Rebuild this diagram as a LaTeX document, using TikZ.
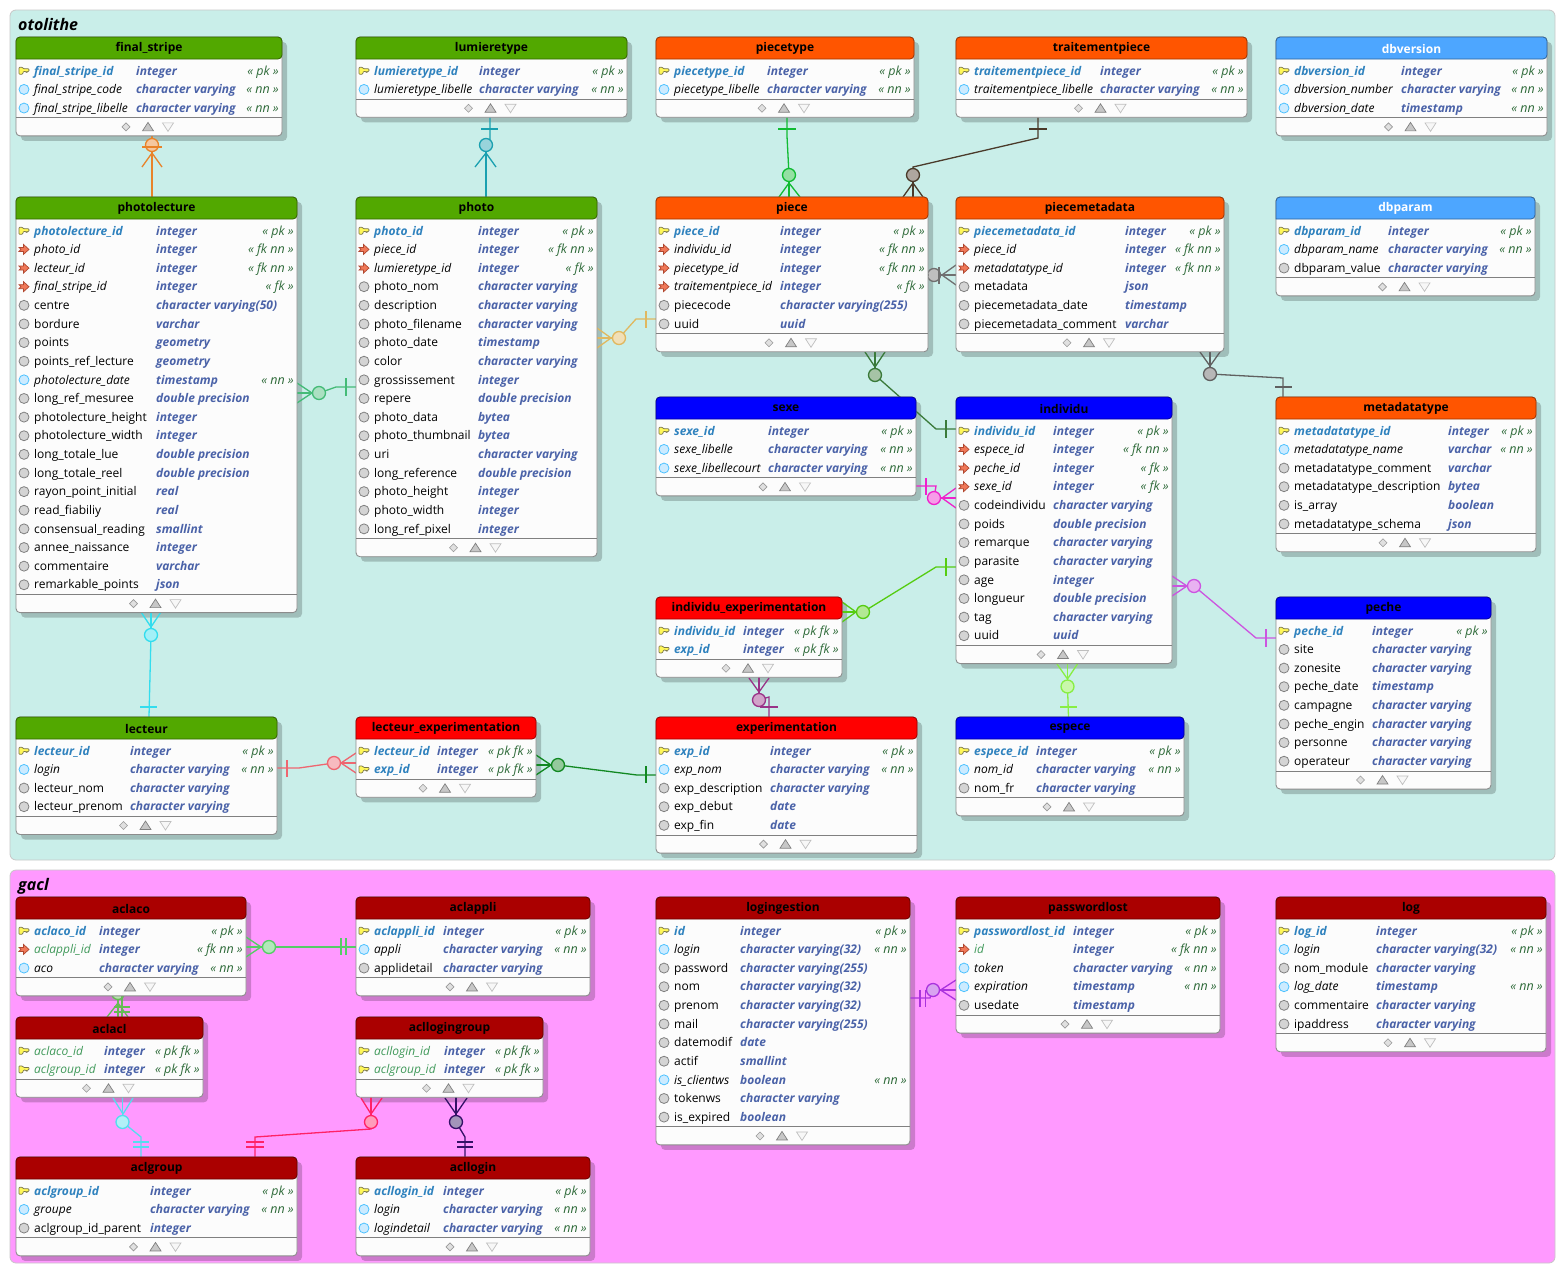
\documentclass[tikz,border=0pt]{standalone}
\usepackage{fontspec}
\setmainfont{Open Sans}
\usetikzlibrary{calc}
\pgfdeclarelayer{shadow}
\pgfdeclarelayer{rel}
\pgfsetlayers{shadow,rel,main}
\catcode`\_=12
\definecolor{hdrgreen}{HTML}{52A800}
\definecolor{hdrorange}{HTML}{FF5500}
\definecolor{hdrsky}{HTML}{4DA6FF}
\definecolor{hdrblue}{HTML}{0000FF}
\definecolor{hdrred}{HTML}{FF0000}
\definecolor{hdrdark}{HTML}{AA0000}
\definecolor{pkblue}{HTML}{2F82BE}
\definecolor{typeblue}{HTML}{4A62A8}
\definecolor{consgreen}{HTML}{2F6B3A}
\definecolor{fkgreen}{HTML}{40995A}
\definecolor{panelotolithe}{HTML}{C9EEE9}
\definecolor{panelgacl}{HTML}{FF99FF}
\definecolor{fkfill}{HTML}{F07858}
\definecolor{fkline}{HTML}{B04830}
\tikzset{
  tblbox/.style={draw=black!45,fill=black!1,line width=.9pt,rounded corners=4pt,inner sep=0pt,outer sep=0pt,anchor=north west},
  tblshadow/.style={fill=black,fill opacity=.2,rounded corners=4pt},
  tblhead/.style={draw=#1!60!black,fill=#1,line width=.8pt},
  tbldiv/.style={draw=black!50,line width=.9pt},
  tbltitle/.style={font=\fontsize{12}{14}\selectfont\bfseries,inner sep=0pt},
  panelbox/.style={draw=black!22,line width=.8pt,rounded corners=6pt},
  paneltitle/.style={font=\fontsize{16}{18}\selectfont\bfseries\itshape,anchor=base west,inner sep=0pt},
  rowtext/.style={anchor=base west,inner sep=0pt},
  namepk/.style={rowtext,text=pkblue,font=\fontsize{12}{14}\selectfont\bfseries\itshape},
  namepf/.style={rowtext,text=fkgreen,font=\fontsize{12}{14}\selectfont\itshape},
  namefg/.style={rowtext,text=fkgreen,font=\fontsize{12}{14}\selectfont\itshape},
  namefk/.style={rowtext,font=\fontsize{12}{14}\selectfont\itshape},
  namenn/.style={rowtext,font=\fontsize{12}{14}\selectfont\itshape},
  nameco/.style={rowtext,font=\fontsize{12}{14}\selectfont},
  coltype/.style={rowtext,text=typeblue,font=\fontsize{12}{14}\selectfont\bfseries\itshape},
  colcons/.style={anchor=base east,inner sep=0pt,text=consgreen,font=\fontsize{12.5}{14}\selectfont\itshape},
  relline/.style={draw=#1,line width=1.3pt},
  relzero/.style={circle,draw=#1,fill=#1!45!white,line width=1.3pt,minimum size=13pt,inner sep=0pt,outer sep=0pt},
  rowpk/.pic={\keyshape},
  rowpf/.pic={\keyshape},
  rowfk/.pic={\arrowshape},
  rowfg/.pic={\arrowshape},
  rownn/.pic={\path[fill=blue!40!cyan!20,draw=blue!35!cyan!70,line width=.8pt] (0,0) circle (5);},
  rowco/.pic={\path[fill=black!17,draw=black!50,line width=.8pt] (0,0) circle (5);},
  footdiamond/.pic={\path[fill=black!12,draw=black!40,line width=.6pt] (-4,0) -- (0,-4) -- (4,0) -- (0,4) -- cycle;},
  footup/.pic={\path[fill=black!22,draw=black!50,line width=.7pt] (-5.5,4) -- (0,-4.5) -- (5.5,4) -- cycle;},
  footdown/.pic={\path[fill=black!3,draw=black!25,line width=.7pt] (-5.5,-4) -- (0,4.5) -- (5.5,-4) -- cycle;},
}
\newcommand{\keyshape}{\path[fill=yellow!65,draw=black!60!yellow,line width=.7pt,rounded corners=.8pt] (-5,-3.5) -- (-1.5,-3.5) -- (-.5,-2) -- (5,-2) -- (5,.6) -- (3.2,.6) -- (2.6,1.6) -- (1.6,.6) -- (-.5,.6) -- (-1.5,3.5) -- (-5,3.5) -- cycle;}
\newcommand{\arrowshape}{\path[fill=fkfill,draw=fkline,line width=.7pt] (-5,-2) -- (-.5,-2) -- (-.5,-5) -- (5,0) -- (-.5,5) -- (-.5,2) -- (-5,2) -- (-3,0) -- cycle;}
\newcount\rowno
\def\tblsky{hdrsky}
% name, left, top, right, rows, type column, header colour, title
\newcommand{\pgtable}[8]{%
  \pgfmathsetmacro\tblbot{#3+43+18.63*#5}
  \pgfmathsetmacro\tblmid{(#2+#4)/2}
  \pgfmathsetmacro\tblw{#4-#2}
  \pgfmathsetmacro\tblh{\tblbot-#3}
  \def\tblname{#1}\def\tblleft{#2}\def\tbltop{#3}\def\tblright{#4}\def\tbltype{#6}
  \def\tblcol{#7}\def\tbltext{black}\ifx\tblcol\tblsky\def\tbltext{white}\fi
  \global\rowno=0
  \begin{pgfonlayer}{shadow}
    \path[tblshadow] (#2+5,#3+5) rectangle (#4+5,\tblbot+5);
  \end{pgfonlayer}
  \node[tblbox,minimum width=\tblw pt,minimum height=\tblh pt] (#1) at (#2,#3) {};
  \path[tblhead=#7] (#2,#3+22) [rounded corners=4pt] -- (#2,#3) -- (#4,#3) -- (#4,#3+22) [sharp corners] -- cycle;
  \node[tbltitle,text=\tbltext] (#1-title) at (\tblmid,#3+11.7) {#8};
  \draw[tbldiv] (#2,\tblbot-18) -- (#4,\tblbot-18);
  \pic at (\tblmid-23,\tblbot-9) {footdiamond};
  \pic at (\tblmid-1,\tblbot-9) {footup};
  \pic at (\tblmid+19,\tblbot-9) {footdown};
}
% kind, name, type, constraint
\newcommand{\colrow}[4]{%
  \global\advance\rowno by 1
  \pgfmathsetmacro\rowy{\tbltop+33.8+18.63*(\rowno-1)}
  \pic at (\tblleft+8,\rowy) {row#1};
  \node[name#1] (\tblname-\the\rowno-n) at (\tblleft+18,\rowy+4.2) {#2};
  \node[coltype] (\tblname-\the\rowno-t) at (\tbltype,\rowy+4.2) {#3};
  \if\relax\detokenize{#4}\relax\else
    \node[colcons] (\tblname-\the\rowno-c) at (\tblright-3,\rowy+4.2) {« #4 »};
  \fi
}
\newcommand{\cv}{character varying}
\newcommand{\dbl}{double precision}
\begin{document}
\begin{tikzpicture}[x=1pt,y=-1pt]
\useasboundingbox (0,0) rectangle (1567,1275);
\begin{pgfonlayer}{shadow}
\path[panelbox,fill=panelotolithe] (10,10) rectangle (1555,860);
\path[panelbox,fill=panelgacl] (10,870) rectangle (1555,1263);
\end{pgfonlayer}
\node[paneltitle] (otolithe) at (18,30) {otolithe};
\node[paneltitle] (gacl) at (18,890) {gacl};

% otolithe tables
\pgtable{finalstripe}{16}{37}{282}{3}{136}{hdrgreen}{final_stripe}
\colrow{pk}{final_stripe_id}{integer}{pk}
\colrow{nn}{final_stripe_code}{\cv}{nn}
\colrow{nn}{final_stripe_libelle}{\cv}{nn}

\pgtable{lumieretype}{356}{37}{627}{2}{479}{hdrgreen}{lumieretype}
\colrow{pk}{lumieretype_id}{integer}{pk}
\colrow{nn}{lumieretype_libelle}{\cv}{nn}

\pgtable{piecetype}{656}{37}{914}{2}{767}{hdrorange}{piecetype}
\colrow{pk}{piecetype_id}{integer}{pk}
\colrow{nn}{piecetype_libelle}{\cv}{nn}

\pgtable{traitementpiece}{956}{37}{1247}{2}{1100}{hdrorange}{traitementpiece}
\colrow{pk}{traitementpiece_id}{integer}{pk}
\colrow{nn}{traitementpiece_libelle}{\cv}{nn}

\pgtable{dbversion}{1276}{37}{1547}{3}{1401}{hdrsky}{dbversion}
\colrow{pk}{dbversion_id}{integer}{pk}
\colrow{nn}{dbversion_number}{\cv}{nn}
\colrow{nn}{dbversion_date}{timestamp}{nn}

\pgtable{photolecture}{16}{197}{297}{20}{156}{hdrgreen}{photolecture}
\colrow{pk}{photolecture_id}{integer}{pk}
\colrow{fk}{photo_id}{integer}{fk nn}
\colrow{fk}{lecteur_id}{integer}{fk nn}
\colrow{fk}{final_stripe_id}{integer}{fk}
\colrow{co}{centre}{character varying(50)}{}
\colrow{co}{bordure}{varchar}{}
\colrow{co}{points}{geometry}{}
\colrow{co}{points_ref_lecture}{geometry}{}
\colrow{nn}{photolecture_date}{timestamp}{nn}
\colrow{co}{long_ref_mesuree}{\dbl}{}
\colrow{co}{photolecture_height}{integer}{}
\colrow{co}{photolecture_width}{integer}{}
\colrow{co}{long_totale_lue}{\dbl}{}
\colrow{co}{long_totale_reel}{\dbl}{}
\colrow{co}{rayon_point_initial}{real}{}
\colrow{co}{read_fiabiliy}{real}{}
\colrow{co}{consensual_reading}{smallint}{}
\colrow{co}{annee_naissance}{integer}{}
\colrow{co}{commentaire}{varchar}{}
\colrow{co}{remarkable_points}{json}{}

\pgtable{photo}{356}{197}{597}{17}{478}{hdrgreen}{photo}
\colrow{pk}{photo_id}{integer}{pk}
\colrow{fk}{piece_id}{integer}{fk nn}
\colrow{fk}{lumieretype_id}{integer}{fk}
\colrow{co}{photo_nom}{\cv}{}
\colrow{co}{description}{\cv}{}
\colrow{co}{photo_filename}{\cv}{}
\colrow{co}{photo_date}{timestamp}{}
\colrow{co}{color}{\cv}{}
\colrow{co}{grossissement}{integer}{}
\colrow{co}{repere}{\dbl}{}
\colrow{co}{photo_data}{bytea}{}
\colrow{co}{photo_thumbnail}{bytea}{}
\colrow{co}{uri}{\cv}{}
\colrow{co}{long_reference}{\dbl}{}
\colrow{co}{photo_height}{integer}{}
\colrow{co}{photo_width}{integer}{}
\colrow{co}{long_ref_pixel}{integer}{}

\pgtable{piece}{656}{197}{928}{6}{780}{hdrorange}{piece}
\colrow{pk}{piece_id}{integer}{pk}
\colrow{fk}{individu_id}{integer}{fk nn}
\colrow{fk}{piecetype_id}{integer}{fk nn}
\colrow{fk}{traitementpiece_id}{integer}{fk}
\colrow{co}{piececode}{character varying(255)}{}
\colrow{co}{uuid}{uuid}{}

\pgtable{piecemetadata}{956}{197}{1224}{6}{1125}{hdrorange}{piecemetadata}
\colrow{pk}{piecemetadata_id}{integer}{pk}
\colrow{fk}{piece_id}{integer}{fk nn}
\colrow{fk}{metadatatype_id}{integer}{fk nn}
\colrow{co}{metadata}{json}{}
\colrow{co}{piecemetadata_date}{timestamp}{}
\colrow{co}{piecemetadata_comment}{varchar}{}

\pgtable{dbparam}{1276}{197}{1535}{3}{1388}{hdrsky}{dbparam}
\colrow{pk}{dbparam_id}{integer}{pk}
\colrow{nn}{dbparam_name}{\cv}{nn}
\colrow{co}{dbparam_value}{\cv}{}

\pgtable{sexe}{656}{397}{916}{3}{768}{hdrblue}{sexe}
\colrow{pk}{sexe_id}{integer}{pk}
\colrow{nn}{sexe_libelle}{\cv}{nn}
\colrow{nn}{sexe_libellecourt}{\cv}{nn}

\pgtable{individu}{956}{397}{1172}{12}{1053}{hdrblue}{individu}
\colrow{pk}{individu_id}{integer}{pk}
\colrow{fk}{espece_id}{integer}{fk nn}
\colrow{fk}{peche_id}{integer}{fk}
\colrow{fk}{sexe_id}{integer}{fk}
\colrow{co}{codeindividu}{\cv}{}
\colrow{co}{poids}{\dbl}{}
\colrow{co}{remarque}{\cv}{}
\colrow{co}{parasite}{\cv}{}
\colrow{co}{age}{integer}{}
\colrow{co}{longueur}{\dbl}{}
\colrow{co}{tag}{\cv}{}
\colrow{co}{uuid}{uuid}{}

\pgtable{metadatatype}{1276}{397}{1536}{6}{1448}{hdrorange}{metadatatype}
\colrow{pk}{metadatatype_id}{integer}{pk}
\colrow{nn}{metadatatype_name}{varchar}{nn}
\colrow{co}{metadatatype_comment}{varchar}{}
\colrow{co}{metadatatype_description}{bytea}{}
\colrow{co}{is_array}{boolean}{}
\colrow{co}{metadatatype_schema}{json}{}

\pgtable{indexp}{656}{597}{842}{2}{743}{hdrred}{individu_experimentation}
\colrow{pk}{individu_id}{integer}{pk fk}
\colrow{pk}{exp_id}{integer}{pk fk}

\pgtable{peche}{1276}{597}{1491}{8}{1372}{hdrblue}{peche}
\colrow{pk}{peche_id}{integer}{pk}
\colrow{co}{site}{\cv}{}
\colrow{co}{zonesite}{\cv}{}
\colrow{co}{peche_date}{timestamp}{}
\colrow{co}{campagne}{\cv}{}
\colrow{co}{peche_engin}{\cv}{}
\colrow{co}{personne}{\cv}{}
\colrow{co}{operateur}{\cv}{}

\pgtable{lecteur}{16}{717}{277}{4}{130}{hdrgreen}{lecteur}
\colrow{pk}{lecteur_id}{integer}{pk}
\colrow{nn}{login}{\cv}{nn}
\colrow{co}{lecteur_nom}{\cv}{}
\colrow{co}{lecteur_prenom}{\cv}{}

\pgtable{lecexp}{356}{717}{536}{2}{437}{hdrred}{lecteur_experimentation}
\colrow{pk}{lecteur_id}{integer}{pk fk}
\colrow{pk}{exp_id}{integer}{pk fk}

\pgtable{experimentation}{656}{717}{917}{5}{770}{hdrred}{experimentation}
\colrow{pk}{exp_id}{integer}{pk}
\colrow{nn}{exp_nom}{\cv}{nn}
\colrow{co}{exp_description}{\cv}{}
\colrow{co}{exp_debut}{date}{}
\colrow{co}{exp_fin}{date}{}

\pgtable{espece}{956}{717}{1184}{3}{1036}{hdrblue}{espece}
\colrow{pk}{espece_id}{integer}{pk}
\colrow{nn}{nom_id}{\cv}{nn}
\colrow{co}{nom_fr}{\cv}{}

% gacl tables
\pgtable{aclaco}{16}{897}{246}{3}{99}{hdrdark}{aclaco}
\colrow{pk}{aclaco_id}{integer}{pk}
\colrow{fg}{aclappli_id}{integer}{fk nn}
\colrow{nn}{aco}{\cv}{nn}

\pgtable{aclappli}{356}{897}{590}{3}{443}{hdrdark}{aclappli}
\colrow{pk}{aclappli_id}{integer}{pk}
\colrow{nn}{appli}{\cv}{nn}
\colrow{co}{applidetail}{\cv}{}

\pgtable{logingestion}{656}{897}{910}{11}{740}{hdrdark}{logingestion}
\colrow{pk}{id}{integer}{pk}
\colrow{nn}{login}{character varying(32)}{nn}
\colrow{co}{password}{character varying(255)}{}
\colrow{co}{nom}{character varying(32)}{}
\colrow{co}{prenom}{character varying(32)}{}
\colrow{co}{mail}{character varying(255)}{}
\colrow{co}{datemodif}{date}{}
\colrow{co}{actif}{smallint}{}
\colrow{nn}{is_clientws}{boolean}{nn}
\colrow{co}{tokenws}{\cv}{}
\colrow{co}{is_expired}{boolean}{}

\pgtable{passwordlost}{956}{897}{1220}{5}{1073}{hdrdark}{passwordlost}
\colrow{pk}{passwordlost_id}{integer}{pk}
\colrow{fg}{id}{integer}{fk nn}
\colrow{nn}{token}{\cv}{nn}
\colrow{nn}{expiration}{timestamp}{nn}
\colrow{co}{usedate}{timestamp}{}

\pgtable{logtable}{1276}{897}{1546}{6}{1376}{hdrdark}{log}
\colrow{pk}{log_id}{integer}{pk}
\colrow{nn}{login}{character varying(32)}{nn}
\colrow{co}{nom_module}{\cv}{}
\colrow{nn}{log_date}{timestamp}{nn}
\colrow{co}{commentaire}{\cv}{}
\colrow{co}{ipaddress}{\cv}{}

\pgtable{aclacl}{16}{1017}{203}{2}{104}{hdrdark}{aclacl}
\colrow{pf}{aclaco_id}{integer}{pk fk}
\colrow{pf}{aclgroup_id}{integer}{pk fk}

\pgtable{acllogingroup}{356}{1017}{543}{2}{444}{hdrdark}{acllogingroup}
\colrow{pf}{acllogin_id}{integer}{pk fk}
\colrow{pf}{aclgroup_id}{integer}{pk fk}

\pgtable{aclgroup}{16}{1157}{297}{3}{150}{hdrdark}{aclgroup}
\colrow{pk}{aclgroup_id}{integer}{pk}
\colrow{nn}{groupe}{\cv}{nn}
\colrow{co}{aclgroup_id_parent}{integer}{}

\pgtable{acllogin}{356}{1157}{590}{3}{443}{hdrdark}{acllogin}
\colrow{pk}{acllogin_id}{integer}{pk}
\colrow{nn}{login}{\cv}{nn}
\colrow{nn}{logindetail}{\cv}{nn}

\begin{pgfonlayer}{rel}
% final_stripe - photolecture
\definecolor{relc}{HTML}{E8832A}
\node[relzero=relc] (zfinal) at (152,145) {};
\draw[relline=relc] (finalstripe.south -| zfinal) -- (zfinal);
\draw[relline=relc] (zfinal) -- (photolecture.north -| zfinal);
\draw[relline=relc] (142,147) -- (162,147);
\draw[relline=relc] (142,167) -- (152,153) -- (162,167);
% lumieretype - photo
\definecolor{relc}{HTML}{1AA0B0}
\node[relzero=relc] (zlumiere) at (486,145) {};
\draw[relline=relc] (lumieretype.south -| 490,0) -- (490,139) -- (zlumiere);
\draw[relline=relc] (zlumiere) -- (photo.north -| zlumiere);
\draw[relline=relc] (481,129) -- (498,129);
\draw[relline=relc] (475,167) -- (486,153) -- (496,167);
% piecetype - piece
\definecolor{relc}{HTML}{11BB33}
\node[relzero=relc] (zpiecetype) at (789,175) {};
\draw[relline=relc] (piecetype.south -| 787,0) -- (787,136) -- (zpiecetype);
\draw[relline=relc] (zpiecetype) -- (piece.north -| zpiecetype);
\draw[relline=relc] (778,129) -- (796,129);
\draw[relline=relc] (779,197) -- (789,183) -- (800,197);
% traitementpiece - piece
\definecolor{relc}{HTML}{4A3A2A}
\node[relzero=relc] (ztraitement) at (913,175) {};
\draw[relline=relc] (traitementpiece.south -| 1038,0) -- (1038,138) -- (913,167) -- (ztraitement);
\draw[relline=relc] (ztraitement) -- (piece.north -| ztraitement);
\draw[relline=relc] (1029,129) -- (1047,129);
\draw[relline=relc] (903,197) -- (913,183) -- (923,197);
% piece - photo
\definecolor{relc}{HTML}{E0B860}
\node[relzero=relc] (zphoto) at (619,338) {};
\draw[relline=relc] (piece.west |- 0,319) -- (636,319) -- (zphoto);
\draw[relline=relc] (zphoto) -- (photo.east |- zphoto);
\draw[relline=relc] (646,311) -- (646,328);
\draw[relline=relc] (597,328) -- (611,338) -- (597,348);
% piece - piecemetadata
\definecolor{relc}{HTML}{707070}
\node[relzero=relc] (zmeta) at (934,275) {};
\draw[relline=relc] (piece.east |- zmeta) -- (zmeta);
\draw[relline=relc] (zmeta) -- (piecemetadata.west |- zmeta);
\draw[relline=relc] (939,267) -- (939,284);
\draw[relline=relc] (956,265) -- (942,275) -- (956,285);
% metadatatype - piecemetadata
\definecolor{relc}{HTML}{606060}
\node[relzero=relc] (zmetatype) at (1210,374) {};
\draw[relline=relc] (piecemetadata.south -| zmetatype) -- (zmetatype);
\draw[relline=relc] (zmetatype) -- (1283,378) -- (metadatatype.north -| 1283,0);
\draw[relline=relc] (1275,387) -- (1292,387);
\draw[relline=relc] (1200,352) -- (1210,366) -- (1220,352);
% photo - photolecture
\definecolor{relc}{HTML}{44BB77}
\node[relzero=relc] (zphotolec) at (319,393) {};
\draw[relline=relc] (photolecture.east |- zphotolec) -- (zphotolec);
\draw[relline=relc] (zphotolec) -- (336,387) -- (photo.west |- 0,387);
\draw[relline=relc] (346,378) -- (346,396);
\draw[relline=relc] (297,383) -- (312,393) -- (297,403);
% lecteur - photolecture
\definecolor{relc}{HTML}{33DDEE}
\node[relzero=relc] (zlecteur) at (151,635) {};
\draw[relline=relc] (photolecture.south -| zlecteur) -- (zlecteur);
\draw[relline=relc] (zlecteur) -- (lecteur.north -| 149,0);
\draw[relline=relc] (140,707) -- (157,707);
\draw[relline=relc] (141,612) -- (151,627) -- (161,612);
% lecteur - lecteur_experimentation
\definecolor{relc}{HTML}{EE6670}
\node[relzero=relc] (zlecexp) at (334,763) {};
\draw[relline=relc] (lecteur.east |- 0,768) -- (299,768) -- (zlecexp);
\draw[relline=relc] (zlecexp) -- (lecexp.west |- zlecexp);
\draw[relline=relc] (287,760) -- (287,777);
\draw[relline=relc] (356,753) -- (341,763) -- (356,773);
% experimentation - lecteur_experimentation
\definecolor{relc}{HTML}{118822}
\node[relzero=relc] (zexplec) at (558,765) {};
\draw[relline=relc] (lecexp.east |- zexplec) -- (zexplec);
\draw[relline=relc] (zexplec) -- (637,775) -- (experimentation.west |- 0,775);
\draw[relline=relc] (646,766) -- (646,783);
\draw[relline=relc] (536,755) -- (551,765) -- (536,775);
% individu - piece
\definecolor{relc}{HTML}{3A7A3A}
\node[relzero=relc] (zindpiece) at (875,375) {};
\draw[relline=relc] (piece.south -| zindpiece) -- (zindpiece);
\draw[relline=relc] (zindpiece) -- (936,429) -- (individu.west |- 0,429);
\draw[relline=relc] (946,420) -- (946,438);
\draw[relline=relc] (865,352) -- (875,367) -- (885,352);
% sexe - individu
\definecolor{relc}{HTML}{EE22CC}
\node[relzero=relc] (zsexe) at (934,498) {};
\draw[relline=relc] (sexe.east |- 0,486) -- (936,486) -- (zsexe);
\draw[relline=relc] (zsexe) -- (individu.west |- zsexe);
\draw[relline=relc] (926,478) -- (926,495);
\draw[relline=relc] (956,488) -- (942,498) -- (956,508);
% peche - individu
\definecolor{relc}{HTML}{CC55E0}
\node[relzero=relc] (zpeche) at (1194,586) {};
\draw[relline=relc] (individu.east |- zpeche) -- (zpeche);
\draw[relline=relc] (zpeche) -- (1256,638) -- (peche.west |- 0,638);
\draw[relline=relc] (1266,629) -- (1266,647);
\draw[relline=relc] (1172,576) -- (1187,586) -- (1172,596);
% individu - individu_experimentation
\definecolor{relc}{HTML}{55CC11}
\node[relzero=relc] (zindexp) at (863,612) {};
\draw[relline=relc] (individu.west |- 0,567) -- (936,567) -- (zindexp);
\draw[relline=relc] (zindexp) -- (indexp.east |- zindexp);
\draw[relline=relc] (946,558) -- (946,576);
\draw[relline=relc] (842,602) -- (856,612) -- (842,622);
% experimentation - individu_experimentation
\definecolor{relc}{HTML}{993388}
\node[relzero=relc] (zexpind) at (759,700) {};
\draw[relline=relc] (indexp.south -| zexpind) -- (zexpind);
\draw[relline=relc] (zexpind) -- (769,697) -- (experimentation.north -| 769,0);
\draw[relline=relc] (760,707) -- (778,707);
\draw[relline=relc] (749,678) -- (759,692) -- (769,678);
% espece - individu
\definecolor{relc}{HTML}{88EE44}
\node[relzero=relc] (zespece) at (1067.5,686.5) {};
\draw[relline=relc] (individu.south -| zespece) -- (zespece);
\draw[relline=relc] (zespece) -- (espece.north -| 1068.5,0);
\draw[relline=relc] (1060,707) -- (1077,707);
\draw[relline=relc] (1057,664) -- (1067.5,679) -- (1077.5,664);
% aclappli - aclaco
\definecolor{relc}{HTML}{55CC66}
\node[relzero=relc] (zappli) at (269,947) {};
\draw[relline=relc] (aclaco.east |- zappli) -- (zappli);
\draw[relline=relc] (zappli) -- (aclappli.west |- zappli);
\draw[relline=relc] (341,938) -- (341,955);
\draw[relline=relc] (346,938) -- (346,955);
\draw[relline=relc] (246,937) -- (261,947) -- (246,957);
% aclaco - aclacl
\definecolor{relc}{HTML}{66BB55}
\node[relzero=relc] (zaco) at (118,993) {};
\draw[relline=relc] (zaco) -- (aclacl.north -| zaco);
\draw[relline=relc] (122,996) -- (122,1017);
\draw[relline=relc] (114,1007) -- (130,1007);
\draw[relline=relc] (114,1012) -- (130,1012);
\draw[relline=relc] (107,1017) -- (118,1003) -- (128,1017);
% aclgroup - aclacl
\definecolor{relc}{HTML}{55DDEE}
\node[relzero=relc] (zaclgroup) at (122.5,1122) {};
\draw[relline=relc] (aclacl.south -| zaclgroup) -- (zaclgroup);
\draw[relline=relc] (zaclgroup) -- (141,1137) -- (aclgroup.north -| 141,0);
\draw[relline=relc] (133,1142) -- (149,1142);
\draw[relline=relc] (133,1147) -- (149,1147);
\draw[relline=relc] (113,1098) -- (123,1114) -- (133,1098);
% aclgroup - acllogingroup
\definecolor{relc}{HTML}{FF2266}
\node[relzero=relc] (zgrouplog) at (371,1122) {};
\draw[relline=relc] (acllogingroup.south -| zgrouplog) -- (zgrouplog);
\draw[relline=relc] (zgrouplog) -- (371,1129) -- (255,1137) -- (aclgroup.north -| 255,0);
\draw[relline=relc] (246,1142) -- (264,1142);
\draw[relline=relc] (246,1147) -- (264,1147);
\draw[relline=relc] (361,1098) -- (371,1114) -- (382,1098);
% acllogin - acllogingroup
\definecolor{relc}{HTML}{331166}
\node[relzero=relc] (zloginrel) at (456,1122) {};
\draw[relline=relc] (acllogingroup.south -| zloginrel) -- (zloginrel);
\draw[relline=relc] (zloginrel) -- (465,1137) -- (acllogin.north -| 465,0);
\draw[relline=relc] (457,1142) -- (473,1142);
\draw[relline=relc] (457,1147) -- (473,1147);
\draw[relline=relc] (445,1098) -- (456,1114) -- (467,1098);
% logingestion - passwordlost
\definecolor{relc}{HTML}{AA33DD}
\node[relzero=relc] (zpassword) at (933,990) {};
\draw[relline=relc] (logingestion.east |- 0,998) -- (930,998) -- (zpassword);
\draw[relline=relc] (zpassword) -- (passwordlost.west |- zpassword);
\draw[relline=relc] (920,990) -- (920,1007);
\draw[relline=relc] (925.5,990) -- (925.5,1007);
\draw[relline=relc] (956,980) -- (940.5,990) -- (956,1000);
\end{pgfonlayer}
\end{tikzpicture}
\end{document}
